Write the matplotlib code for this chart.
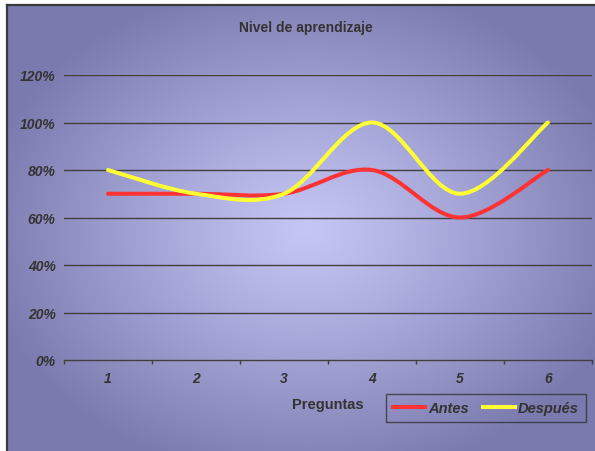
import numpy as np
import matplotlib
matplotlib.use('Agg')
import matplotlib.pyplot as plt
from matplotlib.path import Path as MplPath
from matplotlib.patches import PathPatch
from matplotlib.lines import Line2D
from matplotlib.ticker import FixedLocator, NullFormatter, FixedFormatter

plt.rcParams['font.family'] = ['Liberation Sans', 'DejaVu Sans']

# ---------------------------------------------------------------------------
# DATA
# ---------------------------------------------------------------------------
preguntas = [1, 2, 3, 4, 5, 6]
antes     = [0.70, 0.70, 0.70, 0.80, 0.60, 0.80]
despues   = [0.80, 0.70, 0.70, 1.00, 0.70, 1.00]
y_ticks   = [0.0, 0.2, 0.4, 0.6, 0.8, 1.0, 1.2]
y_labels  = ['0%', '20%', '40%', '60%', '80%', '100%', '120%']

TEXT = '#333333'
GRID = '#404040'


def smooth_path(xs, ys):
    """Excel-style smoothed line: cubic Bezier segments (Catmull-Rom)."""
    p = np.column_stack([xs, ys]).astype(float)
    n = len(p)
    verts = [tuple(p[0])]
    codes = [MplPath.MOVETO]
    for i in range(n - 1):
        p0 = p[max(i - 1, 0)]
        p1 = p[i]
        p2 = p[i + 1]
        p3 = p[min(i + 2, n - 1)]
        c1 = p1 + (p2 - p0) / 6.0
        c2 = p2 - (p3 - p1) / 6.0
        verts += [tuple(c1), tuple(c2), tuple(p2)]
        codes += [MplPath.CURVE4] * 3
    return MplPath(verts, codes)


fig = plt.figure(figsize=(5.95, 4.52), dpi=100)
fig.patch.set_facecolor('white')

# --- background gradient (radial, light centre -> dark edges) ---
bg = fig.add_axes([7 / 595, 0, 1 - 7 / 595, 1 - 6 / 452], zorder=-10)
W, H = 588, 446
gx, gy = np.meshgrid(np.linspace(0, W, W), np.linspace(0, H, H))
cx, cy = 300, 225
r = np.sqrt(((gx - cx) / 330.0) ** 2 + ((gy - cy) / 255.0) ** 2)
t = np.clip(r, 0, 1) ** 1.1
c_in = np.array([198, 198, 246]) / 255.0
c_out = np.array([122, 122, 174]) / 255.0
img = c_in[None, None, :] * (1 - t[..., None]) + c_out[None, None, :] * t[..., None]
bg.imshow(img, aspect='auto', interpolation='bilinear')
bg.set_axis_off()
# border (left and top)
fig.add_artist(Line2D([7 / 595, 7 / 595], [0, 1 - 6 / 452], color='#3a3a3a',
                      lw=1.6, transform=fig.transFigure))
fig.add_artist(Line2D([7 / 595, 1], [1 - 6 / 452, 1 - 6 / 452], color='#3a3a3a',
                      lw=1.6, transform=fig.transFigure))

# --- plot area ---
ax = fig.add_axes([64 / 595, 91 / 452, 528 / 595, 285 / 452])
ax.set_facecolor('none')
ax.set_xlim(0.5, 6.5)
ax.set_ylim(0, 1.2)
for s in ('left', 'right', 'top'):
    ax.spines[s].set_visible(False)
ax.spines['bottom'].set_color(GRID)
ax.spines['bottom'].set_linewidth(1.0)

for v in y_ticks[1:]:
    ax.axhline(v, color=GRID, lw=1.0, zorder=1)

ax.yaxis.set_major_locator(FixedLocator(y_ticks))
ax.yaxis.set_major_formatter(FixedFormatter(y_labels))
ax.tick_params(axis='y', length=0, pad=6, labelsize=10, labelcolor=TEXT)
for lab in ax.get_yticklabels():
    lab.set_fontstyle('italic')
    lab.set_fontweight('bold')

ax.xaxis.set_major_locator(FixedLocator(np.arange(0.5, 7.0, 1.0)))
ax.xaxis.set_major_formatter(NullFormatter())
ax.xaxis.set_minor_locator(FixedLocator(preguntas))
ax.xaxis.set_minor_formatter(FixedFormatter([str(p) for p in preguntas]))
ax.tick_params(axis='x', which='major', direction='out', length=3,
               color=GRID, width=1.0)
ax.tick_params(axis='x', which='minor', length=0, pad=8, labelsize=10,
               labelcolor=TEXT)
for lab in ax.get_xticklabels(minor=True):
    lab.set_fontstyle('italic')
    lab.set_fontweight('bold')

for vals, col in ((antes, '#ff3333'), (despues, '#ffff33')):
    ax.add_patch(PathPatch(smooth_path(preguntas, vals), facecolor='none',
                           edgecolor=col, lw=2.9, capstyle='round',
                           joinstyle='round', zorder=3))

# --- texts ---
fig.text(306 / 595, 1 - 28 / 452, 'Nivel de aprendizaje', ha='center',
         va='center', fontsize=10, fontweight='bold', color=TEXT)
fig.text(328 / 595, 1 - 405 / 452, 'Preguntas', ha='center', va='center',
         fontsize=10.5, fontweight='bold', color=TEXT)

handles = [Line2D([], [], color='#ff3333', lw=2.9),
           Line2D([], [], color='#ffff33', lw=2.9)]
leg = fig.legend(handles, ['Antes', 'Después'], ncol=2, loc='center',
                 bbox_to_anchor=(486 / 595, 1 - 409 / 452),
                 frameon=True, fancybox=False, handlelength=2.2,
                 handletextpad=0.2, columnspacing=1.0, borderpad=0.45,
                 prop={'style': 'italic', 'weight': 'bold', 'size': 10.5})
leg.get_frame().set_facecolor('none')
leg.get_frame().set_edgecolor('#333333')
leg.get_frame().set_linewidth(1.0)
for txt in leg.get_texts():
    txt.set_color(TEXT)

fig.savefig('out.png', dpi=100)
